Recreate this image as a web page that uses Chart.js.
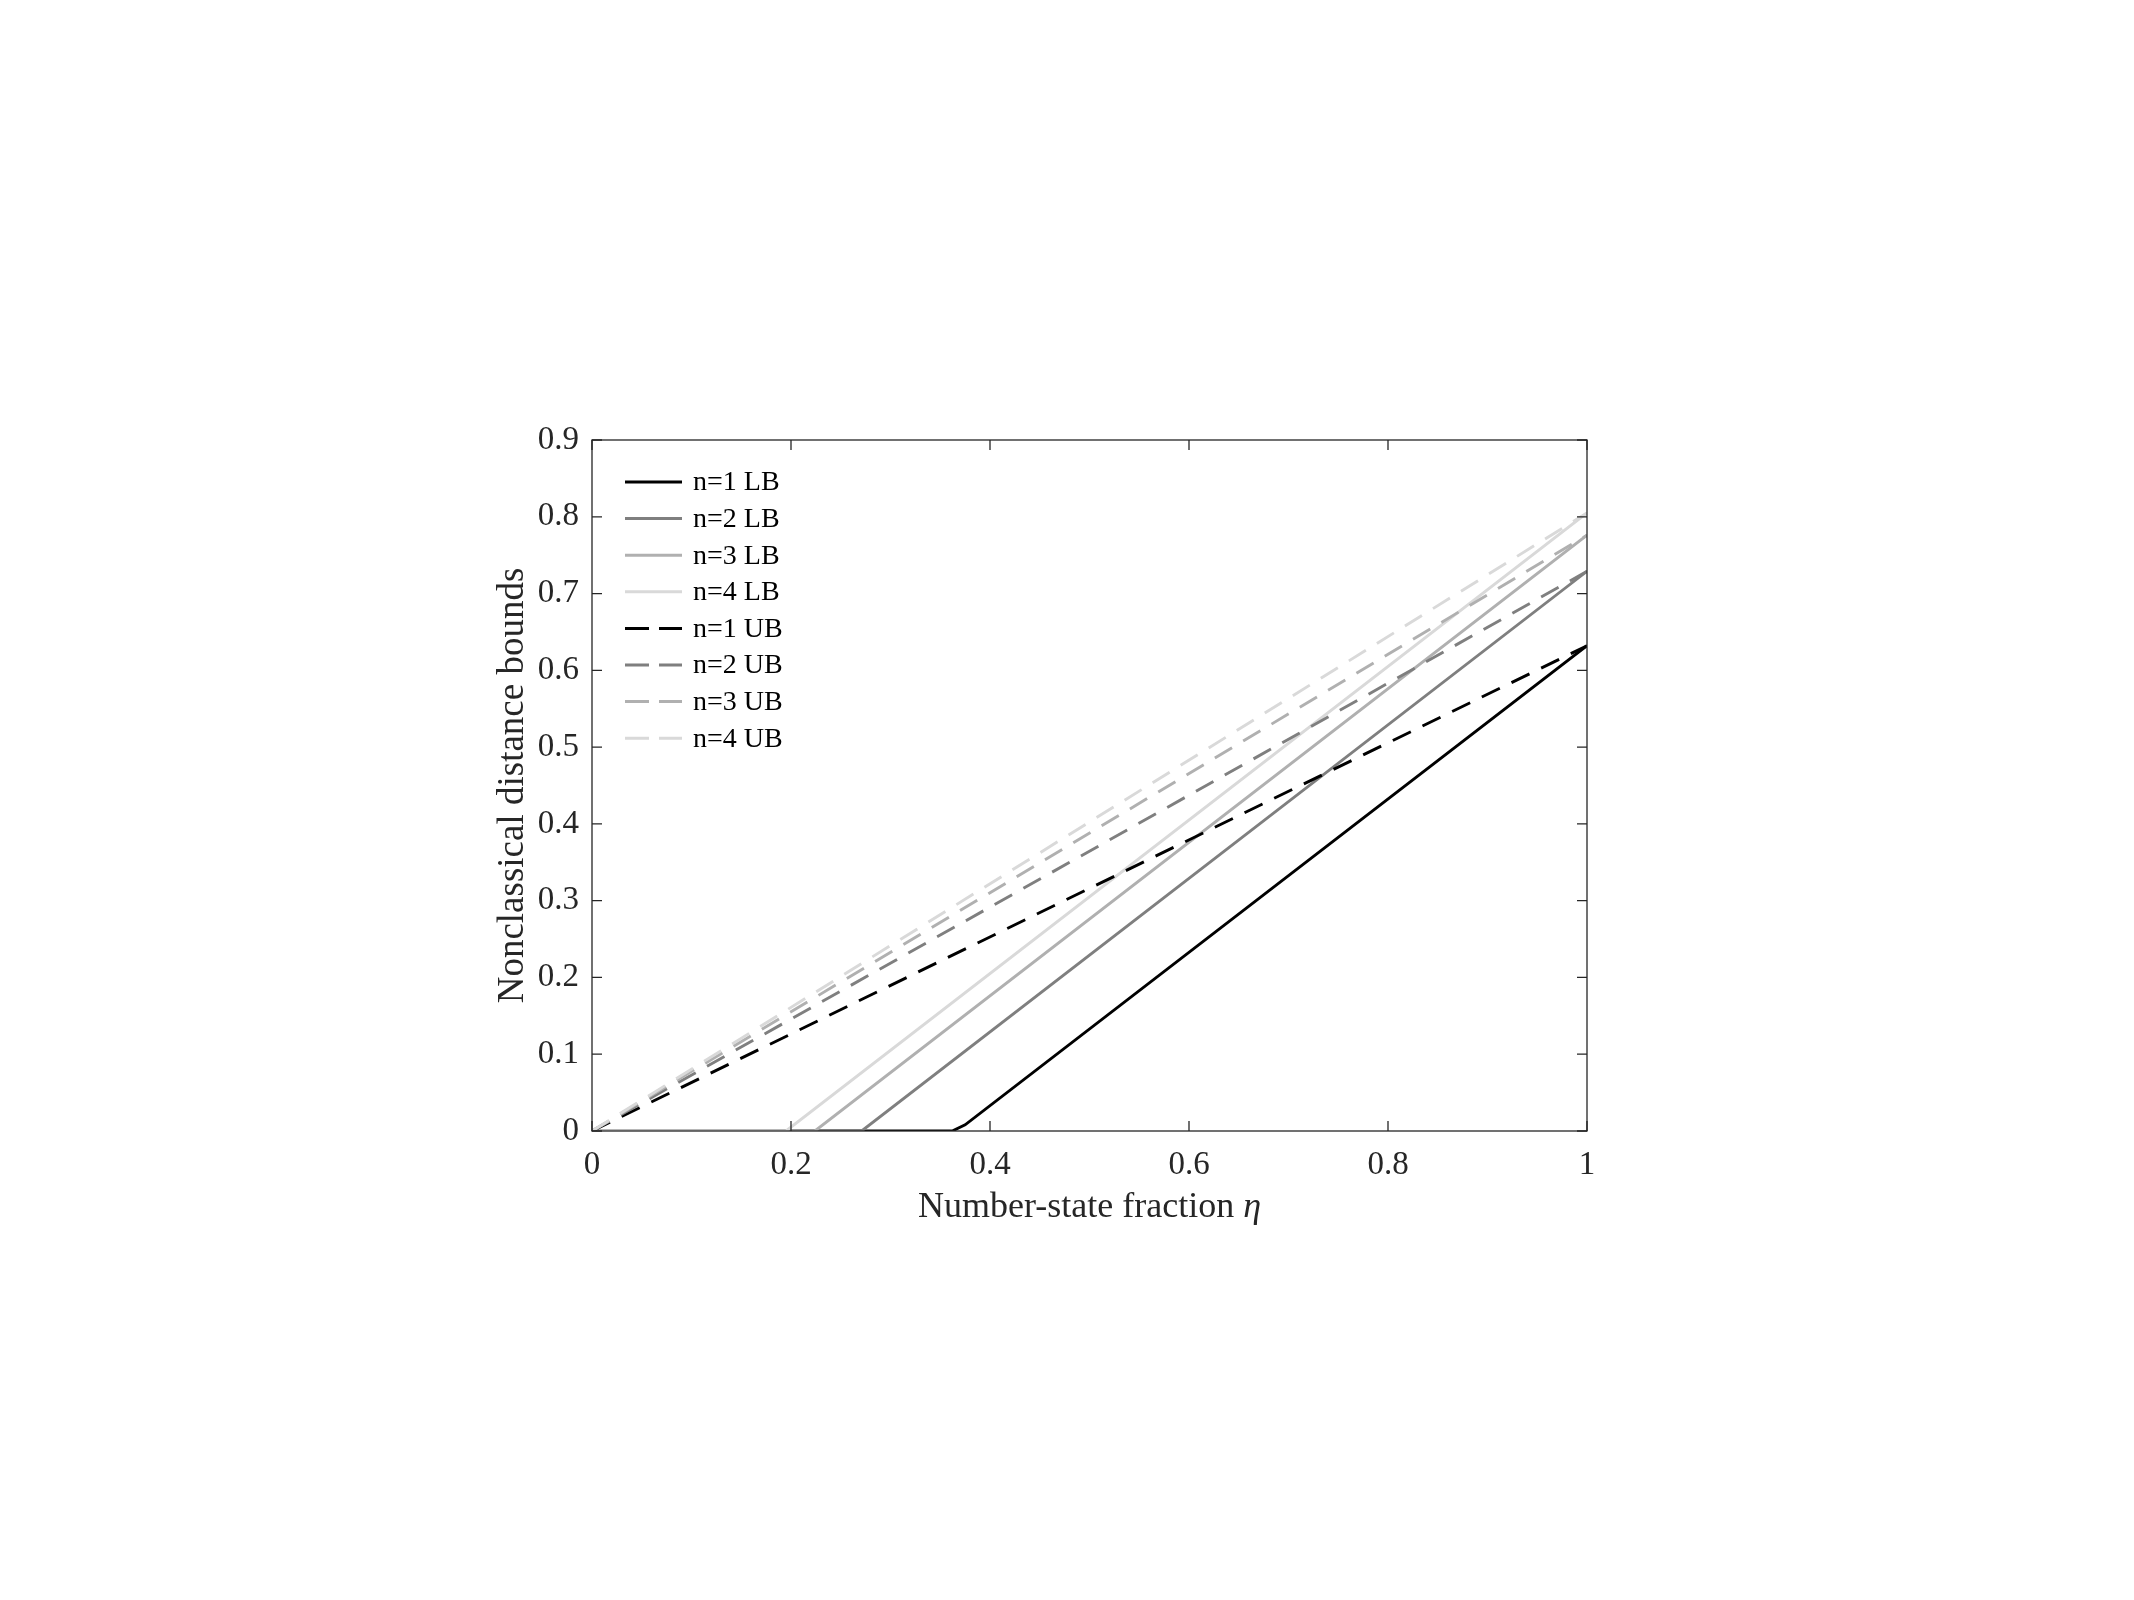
<!DOCTYPE html>
<html>
<head>
<meta charset="utf-8">
<title>Nonclassical distance bounds</title>
<script src="https://cdn.jsdelivr.net/npm/chart.js@4.4.1/dist/chart.umd.min.js"></script>
<style>
  html, body { margin: 0; padding: 0; background: #fff; }
  #wrap { width: 2134px; height: 1600px; }
</style>
</head>
<body>
<div id="wrap"><canvas id="bounds" width="2134" height="1600"></canvas></div>
<script>
// values (eta = number-state fraction)
const seriesLabels = ['n=1 LB', 'n=2 LB', 'n=3 LB', 'n=4 LB', 'n=1 UB', 'n=2 UB', 'n=3 UB', 'n=4 UB'];

const etaLB1 = [0, 0.362, 0.375, 1];
const valLB1 = [0, 0, 0.008, 0.632];
const etaLB2 = [0, 0.271, 1];
const valLB2 = [0, 0, 0.729];
const etaLB3 = [0, 0.224, 1];
const valLB3 = [0, 0, 0.776];
const etaLB4 = [0, 0.195, 1];
const valLB4 = [0, 0, 0.805];

const etaUB = [0, 1];
const valUB1 = [0, 0.632];
const valUB2 = [0, 0.729];
const valUB3 = [0, 0.776];
const valUB4 = [0, 0.805];

const xTickLabels = ['0', '0.2', '0.4', '0.6', '0.8', '1'];
const yTickLabels = ['0', '0.1', '0.2', '0.3', '0.4', '0.5', '0.6', '0.7', '0.8', '0.9'];

const greys = ['#000000', '#7f7f7f', '#b0b0b0', '#d9d9d9'];
const axisColor = '#262626';
const serif = '"Liberation Serif", "Times New Roman", serif';

function pts(xs, ys) {
  return xs.map((x, i) => ({ x: x, y: ys[i] }));
}

const curves = [
  pts(etaLB1, valLB1), pts(etaLB2, valLB2), pts(etaLB3, valLB3), pts(etaLB4, valLB4),
  pts(etaUB, valUB1), pts(etaUB, valUB2), pts(etaUB, valUB3), pts(etaUB, valUB4)
];

const datasets = curves.map((d, i) => ({
  label: seriesLabels[i],
  data: d,
  borderColor: greys[i % 4],
  borderWidth: 2.9,
  borderDash: i < 4 ? [] : [20, 13],
  pointRadius: 0,
  fill: false,
  tension: 0,
  order: -i  // later series on top, like the original plot
}));

// box around the axes with inward ticks on all four sides
const frameTicks = {
  id: 'frameTicks',
  afterDatasetsDraw(chart) {
    const { ctx, chartArea: a, scales } = chart;
    const len = 10;
    ctx.save();
    ctx.strokeStyle = axisColor;
    ctx.lineWidth = 1.3;
    ctx.strokeRect(a.left, a.top, a.right - a.left, a.bottom - a.top);
    ctx.beginPath();
    scales.x.ticks.forEach(t => {
      const px = scales.x.getPixelForValue(t.value);
      ctx.moveTo(px, a.bottom); ctx.lineTo(px, a.bottom - len);
      ctx.moveTo(px, a.top); ctx.lineTo(px, a.top + len);
    });
    scales.y.ticks.forEach(t => {
      const py = scales.y.getPixelForValue(t.value);
      ctx.moveTo(a.left, py); ctx.lineTo(a.left + len, py);
      ctx.moveTo(a.right, py); ctx.lineTo(a.right - len, py);
    });
    ctx.stroke();
    ctx.restore();
  }
};

// x title, with an italic eta as in the original
const xTitle = {
  id: 'xTitle',
  afterDraw(chart) {
    const { ctx, chartArea: a } = chart;
    const main = 'Number-state fraction ';
    const sym = 'η';
    ctx.save();
    ctx.fillStyle = axisColor;
    ctx.textBaseline = 'alphabetic';
    ctx.textAlign = 'left';
    ctx.font = '36px ' + serif;
    const w1 = ctx.measureText(main).width;
    ctx.font = 'italic 36px ' + serif;
    const w2 = ctx.measureText(sym).width;
    const x = (a.left + a.right) / 2 - (w1 + w2) / 2;
    const y = a.bottom + 86;
    ctx.font = '36px ' + serif;
    ctx.fillText(main, x, y);
    ctx.font = 'italic 36px ' + serif;
    ctx.fillText(sym, x + w1, y);
    ctx.restore();
  }
};

// legend sits inside the axes, top-left, without a box
const innerLegend = {
  id: 'innerLegend',
  afterDraw(chart) {
    const { ctx, chartArea: a } = chart;
    const x0 = a.left + 33, lineW = 57, textX = a.left + 101;
    const y0 = a.top + 42, step = 36.6;
    ctx.save();
    ctx.font = '28px ' + serif;
    ctx.textBaseline = 'middle';
    ctx.textAlign = 'left';
    chart.data.datasets.forEach((ds, i) => {
      const y = y0 + i * step;
      ctx.strokeStyle = ds.borderColor;
      ctx.lineWidth = 3;
      ctx.setLineDash(i < 4 ? [] : [24, 10]);
      ctx.beginPath();
      ctx.moveTo(x0, y); ctx.lineTo(x0 + lineW, y);
      ctx.stroke();
      ctx.setLineDash([]);
      ctx.fillStyle = '#000';
      ctx.fillText(ds.label, textX, y + 1);
    });
    ctx.restore();
  }
};

Chart.defaults.font.family = serif;
Chart.defaults.color = axisColor;

new Chart(document.getElementById('bounds'), {
  type: 'line',
  data: { datasets: datasets },
  options: {
    responsive: false,
    devicePixelRatio: 1,
    animation: false,
    layout: { padding: { left: 470, top: 440, right: 547, bottom: 369 } },
    plugins: { legend: { display: false }, tooltip: { enabled: false } },
    scales: {
      x: {
        type: 'linear',
        min: 0,
        max: 1,
        grid: { display: false, drawTicks: false },
        border: { display: false },
        ticks: {
          stepSize: 0.2,
          padding: 15,
          font: { size: 33 },
          maxRotation: 0,
          callback: (v, i) => xTickLabels[i]
        },
        title: { display: false },
        afterFit: s => { s.height = 100; }
      },
      y: {
        type: 'linear',
        min: 0,
        max: 0.9,
        grid: { display: false, drawTicks: false },
        border: { display: false },
        ticks: {
          stepSize: 0.1,
          padding: 13,
          font: { size: 33 },
          callback: (v, i) => yTickLabels[i]
        },
        title: {
          display: true,
          text: 'Nonclassical distance bounds',
          font: { size: 37 },
          padding: { top: 21, bottom: 0 }
        },
        afterFit: s => { s.width = 122; }
      }
    }
  },
  plugins: [frameTicks, xTitle, innerLegend]
});
</script>
</body>
</html>
